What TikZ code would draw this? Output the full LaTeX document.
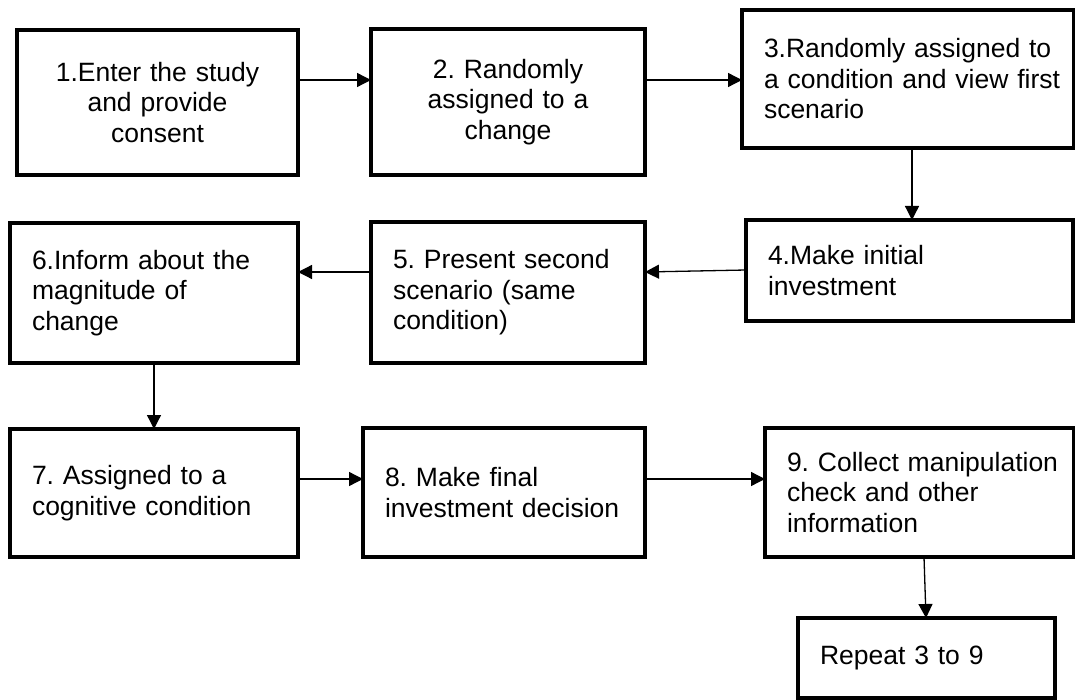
\documentclass[tikz,border=0pt]{standalone}
\usepackage{fontspec}
\setmainfont{Liberation Sans}
\usetikzlibrary{arrows.meta}
\hfuzz=40pt
\hbadness=10000
% keep each printed line on one line
\newcommand{\oneline}[1]{\mbox{#1}}
\begin{document}
\begin{tikzpicture}[x=1pt,y=-1pt,
  every node/.style={font=\fontsize{26.5}{30.5}\selectfont\frenchspacing},
  stepbox/.style={draw=black, line width=3.8pt, fill=white, anchor=north west,
    inner ysep=0pt, inner xsep=22pt, outer sep=0pt},
  leftbox/.style={stepbox, align=left},
  midbox/.style={stepbox, align=center},
  arr/.style={line width=1.3pt, -{Triangle[length=14pt,width=14pt]}}]
\useasboundingbox (0,0) rectangle (1075,700);

% first row
\node[midbox, text width=237pt, minimum height=145pt] (b1) at (17,30)
  {\oneline{1.Enter the study}\\\oneline{and provide}\\\oneline{consent}};
\node[midbox, text width=230pt, minimum height=146pt] (b2) at (371,29)
  {\oneline{2. Randomly}\\\oneline{assigned to a}\\\oneline{change}};
\node[leftbox, text width=288pt, minimum height=138pt] (b3) at (742,10)
  {\oneline{3.Randomly assigned to}\\\oneline{a condition and view first}\\\oneline{scenario}};

% second row
\node[leftbox, text width=283pt, minimum height=101pt] (b4) at (746,220)
  {\oneline{4.Make initial}\\\oneline{investment}};
\node[leftbox, text width=230pt, minimum height=141pt] (b5) at (371,222)
  {\oneline{5. Present second}\\\oneline{scenario (same}\\\oneline{condition)}};
\node[leftbox, text width=244pt, minimum height=140pt] (b6) at (10,223)
  {\oneline{6.Inform about the}\\\oneline{magnitude of}\\\oneline{change}};

% third row
\node[leftbox, text width=244pt, minimum height=128pt] (b7) at (10,429)
  {\oneline{7. Assigned to a}\\\oneline{cognitive condition}};
\node[leftbox, text width=238pt, minimum height=129pt] (b8) at (363,428)
  {\oneline{8. Make final}\\\oneline{investment decision}};
\node[leftbox, text width=265pt, minimum height=129pt] (b9) at (765,428)
  {\oneline{9. Collect manipulation}\\\oneline{check and other}\\\oneline{information}};

% final step
\node[leftbox, text width=213pt, minimum height=80pt] (b10) at (798,618)
  {\oneline{Repeat 3 to 9}};

% connectors
\draw[arr] (b1.east |- 0,80) -- (b2.west |- 0,80);
\draw[arr] (b2.east |- 0,80) -- (b3.west |- 0,80);
\draw[arr] (b3.south -| 912,0) -- (b4.north -| 912,0);
\draw[arr] (b4.west |- 0,270) -- (b5.east |- 0,272);
\draw[arr] (b5.west |- 0,272) -- (b6.east |- 0,272);
\draw[arr] (b6.south -| 154,0) -- (b7.north -| 154,0);
\draw[arr] (b7.east |- 0,479) -- (b8.west |- 0,479);
\draw[arr] (b8.east |- 0,479) -- (b9.west |- 0,479);
\draw[arr] (b9.south -| 924,0) -- (b10.north -| 926,0);
\end{tikzpicture}
\end{document}
